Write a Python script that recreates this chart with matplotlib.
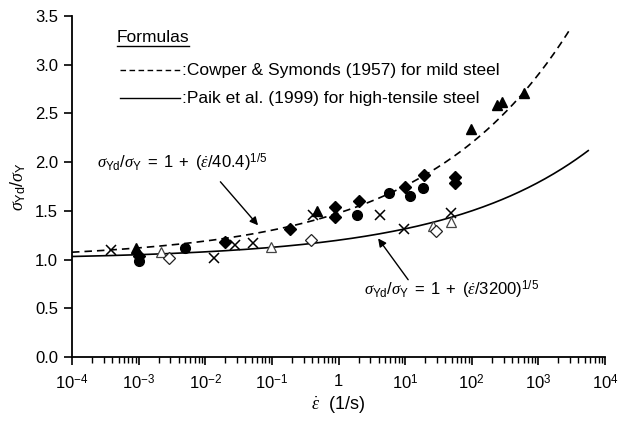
import matplotlib
matplotlib.use("Agg")
import matplotlib.pyplot as plt
import numpy as np
from matplotlib.ticker import LogLocator, FixedLocator, FixedFormatter

plt.rcParams['font.family'] = ['Liberation Sans', 'DejaVu Sans']
plt.rcParams['mathtext.fontset'] = 'custom'
plt.rcParams['mathtext.rm'] = 'Liberation Sans'
plt.rcParams['mathtext.it'] = 'Liberation Serif:italic'
plt.rcParams['mathtext.bf'] = 'Liberation Sans:bold'

# test data: strain rate (1/s) and dynamic yield ratio
tri_fill_x = [9e-4, 0.48, 98, 238, 286, 598]
tri_fill_y = [1.12, 1.50, 2.34, 2.59, 2.62, 2.71]

dia_fill_x = [1e-3, 0.0197, 0.19, 0.88, 0.88, 2.03, 9.8, 19.2, 57, 57]
dia_fill_y = [1.04, 1.18, 1.31, 1.54, 1.44, 1.60, 1.74, 1.87, 1.845, 1.79]

circ_fill_x = [1e-3, 4.9e-3, 1.92, 5.7, 11.7, 18.5]
circ_fill_y = [0.99, 1.12, 1.46, 1.68, 1.65, 1.73]

cross_x = [3.9e-4, 0.0134, 0.028, 0.052, 0.415, 4.15, 9.6, 48]
cross_y = [1.10, 1.02, 1.15, 1.17, 1.46, 1.46, 1.31, 1.475]

tri_open_x = [2.2e-3, 0.096, 26, 48]
tri_open_y = [1.08, 1.13, 1.345, 1.39]

dia_open_x = [2.9e-3, 0.38, 29]
dia_open_y = [1.02, 1.20, 1.29]

# formula constants
cs_D, cs_q, cs_xmax = 40.4, 5, 3000
paik_D, paik_q, paik_xmax = 3200, 5, 5600

xtick_vals = [1e-4, 1e-3, 1e-2, 1e-1, 1, 10, 100, 1000, 10000]
xtick_labels = ['$10^{-4}$', '$10^{-3}$', '$10^{-2}$', '$10^{-1}$', '1',
                '$10^{1}$', '$10^{2}$', '$10^{3}$', '$10^{4}$']
ytick_vals = [0.0, 0.5, 1.0, 1.5, 2.0, 2.5, 3.0, 3.5]

fig = plt.figure(figsize=(6.19, 4.26), dpi=100)
ax = fig.add_axes([0.1163, 0.162, 0.8611, 0.8004])

# formula curves
x_cs = np.logspace(-4, np.log10(cs_xmax), 300)
ax.plot(x_cs, 1 + (x_cs / cs_D) ** (1 / cs_q), color='k', lw=1.2, ls=(0, (4.5, 3)))
x_pk = np.logspace(-4, np.log10(paik_xmax), 300)
ax.plot(x_pk, 1 + (x_pk / paik_D) ** (1 / paik_q), color='k', lw=1.2)

ms = 7
ax.plot(tri_fill_x, tri_fill_y, '^', color='k', ms=ms)
ax.plot(dia_fill_x, dia_fill_y, 'D', color='k', ms=6)
ax.plot(circ_fill_x, circ_fill_y, 'o', color='k', ms=ms)
ax.plot(cross_x, cross_y, 'x', color='k', ms=ms, mew=1.1)
ax.plot(tri_open_x, tri_open_y, '^', mfc='white', mec='#444444', ms=ms, mew=0.9)
ax.plot(dia_open_x, dia_open_y, 'D', mfc='white', mec='#222222', ms=6, mew=0.9)

ax.set_xscale('log')
ax.set_xlim(1e-4, 1e4)
ax.set_ylim(0, 3.5)
ax.xaxis.set_major_locator(FixedLocator(xtick_vals))
ax.xaxis.set_major_formatter(FixedFormatter(xtick_labels))
ax.xaxis.set_minor_locator(LogLocator(base=10, subs=np.arange(2, 10), numticks=20))
ax.set_yticks(ytick_vals)
ax.set_yticklabels(['%.1f' % v for v in ytick_vals])

for s in ['top', 'right']:
    ax.spines[s].set_visible(False)
for s in ['left', 'bottom']:
    ax.spines[s].set_linewidth(1.3)
ax.tick_params(axis='both', which='major', direction='out', length=6, width=1.2,
               labelsize=12, pad=4)
ax.tick_params(axis='x', which='minor', direction='out', length=4, width=1.0)
ax.tick_params(axis='x', which='major', pad=6)

ax.set_xlabel(r'$\dot{\varepsilon}$  (1/s)', fontsize=13, labelpad=1)
ax.set_ylabel(r'$\sigma_{\mathrm{Yd}}/\sigma_{\mathrm{Y}}$', fontsize=13, labelpad=5)

# legend box drawn by hand
ax.text(0.0844, 0.938, 'Formulas', transform=ax.transAxes, fontsize=12.5,
        ha='left', va='center')
ax.plot([0.0844, 0.2195], [0.912, 0.912], transform=ax.transAxes, color='k', lw=1)
ax.plot([0.090, 0.2026], [0.8416, 0.8416], transform=ax.transAxes, color='k',
        lw=1, ls=(0, (4, 2.5)))
ax.text(0.206, 0.8416, ':Cowper & Symonds (1957) for mild steel', transform=ax.transAxes,
        fontsize=12.5, ha='left', va='center')
ax.plot([0.090, 0.2026], [0.7595, 0.7595], transform=ax.transAxes, color='k', lw=1)
ax.text(0.206, 0.7595, ':Paik et al. (1999) for high-tensile steel', transform=ax.transAxes,
        fontsize=12.5, ha='left', va='center')

# formula labels with arrows
ax.text(10 ** -3.63, 1.99, r'$\sigma_{\mathrm{Yd}}/\sigma_{\mathrm{Y}}\mathrm{\ =\ 1\ +\ (}\dot{\varepsilon}\mathrm{/40.4)}^{\mathrm{1/5}}$',
        fontsize=12, ha='left', va='center')
ax.annotate('', xy=(10 ** -1.18, 1.33), xytext=(10 ** -1.80, 1.82),
            arrowprops=dict(arrowstyle='-|>', color='k', lw=1, mutation_scale=12))
ax.text(10 ** 0.39, 0.69, r'$\sigma_{\mathrm{Yd}}/\sigma_{\mathrm{Y}}\mathrm{\ =\ 1\ +\ (}\dot{\varepsilon}\mathrm{/3200)}^{\mathrm{1/5}}$',
        fontsize=12, ha='left', va='center')
ax.annotate('', xy=(10 ** 0.57, 1.24), xytext=(10 ** 1.07, 0.77),
            arrowprops=dict(arrowstyle='-|>', color='k', lw=1, mutation_scale=12))

fig.savefig('out.png', dpi=100)
